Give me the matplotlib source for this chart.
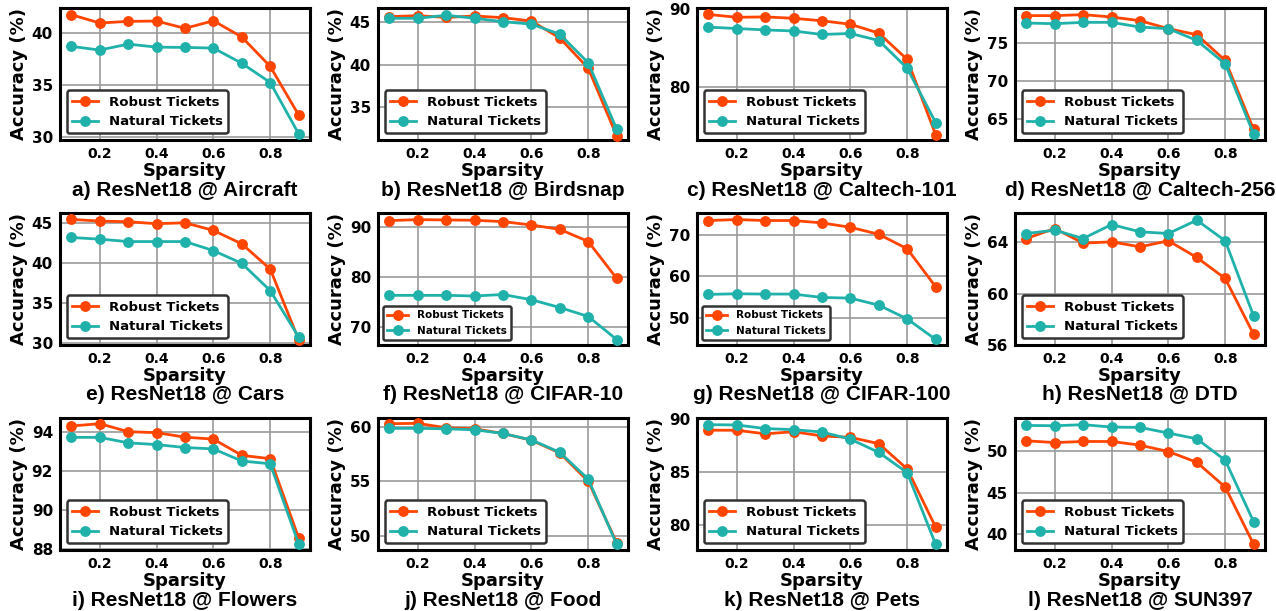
import matplotlib
matplotlib.use("Agg")
import matplotlib.pyplot as plt
import numpy as np

sparsity = [0.1, 0.2, 0.3, 0.4, 0.5, 0.6, 0.7, 0.8, 0.9]

captions = ["a) ResNet18 @ Aircraft", "b) ResNet18 @ Birdsnap", "c) ResNet18 @ Caltech-101",
            "d) ResNet18 @ Caltech-256", "e) ResNet18 @ Cars", "f) ResNet18 @ CIFAR-10",
            "g) ResNet18 @ CIFAR-100", "h) ResNet18 @ DTD", "i) ResNet18 @ Flowers",
            "j) ResNet18 @ Food", "k) ResNet18 @ Pets", "l) ResNet18 @ SUN397"]

robust_aircraft = [41.76, 40.96, 41.12, 41.15, 40.45, 41.18, 39.62, 36.8, 32.15]
natural_aircraft = [38.72, 38.37, 38.94, 38.65, 38.62, 38.56, 37.1, 35.26, 30.35]
robust_birdsnap = [45.6, 45.7, 45.5, 45.67, 45.47, 45.08, 43.1, 39.57, 31.7]
natural_birdsnap = [45.4, 45.4, 45.75, 45.4, 45.0, 44.72, 43.54, 40.2, 32.47]
robust_caltech101 = [89.32, 88.95, 89.0, 88.82, 88.5, 88.05, 86.9, 83.5, 73.8]
natural_caltech101 = [87.68, 87.5, 87.32, 87.18, 86.73, 86.86, 85.95, 82.36, 75.36]
robust_caltech256 = [78.6, 78.6, 78.73, 78.42, 77.94, 76.89, 76.1, 72.72, 63.68]
natural_caltech256 = [77.63, 77.54, 77.72, 77.72, 77.1, 76.89, 75.35, 72.28, 63.07]
robust_cars = [45.5, 45.29, 45.21, 44.96, 45.08, 44.12, 42.44, 39.29, 30.46]
natural_cars = [43.24, 43.03, 42.73, 42.73, 42.73, 41.6, 40.0, 36.6, 30.8]
robust_cifar10 = [91.28, 91.48, 91.41, 91.35, 91.08, 90.4, 89.53, 87.1, 79.73]
natural_cifar10 = [76.33, 76.33, 76.33, 76.2, 76.5, 75.45, 73.9, 72.1, 67.5]
robust_cifar100 = [73.39, 73.63, 73.39, 73.39, 72.82, 71.77, 70.08, 66.6, 57.5]
natural_cifar100 = [55.65, 55.8, 55.73, 55.73, 54.92, 54.76, 53.06, 49.76, 44.84]
robust_dtd = [64.31, 65.09, 63.95, 64.05, 63.66, 64.13, 62.83, 61.19, 56.83]
natural_dtd = [64.7, 64.96, 64.31, 65.4, 64.83, 64.7, 65.74, 64.13, 58.26]
robust_flowers = [94.29, 94.41, 94.0, 93.95, 93.72, 93.62, 92.79, 92.62, 88.57]
natural_flowers = [93.71, 93.71, 93.43, 93.34, 93.19, 93.12, 92.5, 92.36, 88.26]
robust_food = [60.28, 60.31, 59.9, 59.81, 59.38, 58.76, 57.59, 55.0, 49.38]
natural_food = [59.85, 59.85, 59.81, 59.72, 59.38, 58.79, 57.65, 55.2, 49.23]
robust_pets = [88.94, 88.94, 88.6, 88.8, 88.4, 88.27, 87.67, 85.27, 79.77]
natural_pets = [89.47, 89.44, 89.1, 89.0, 88.77, 88.1, 86.84, 84.92, 78.14]
robust_sun397 = [51.21, 51.0, 51.13, 51.13, 50.69, 49.92, 48.63, 45.65, 38.79]
natural_sun397 = [53.06, 53.02, 53.15, 52.86, 52.82, 52.14, 51.45, 48.87, 41.49]

robust = [robust_aircraft, robust_birdsnap, robust_caltech101, robust_caltech256,
          robust_cars, robust_cifar10, robust_cifar100, robust_dtd,
          robust_flowers, robust_food, robust_pets, robust_sun397]
natural = [natural_aircraft, natural_birdsnap, natural_caltech101, natural_caltech256,
           natural_cars, natural_cifar10, natural_cifar100, natural_dtd,
           natural_flowers, natural_food, natural_pets, natural_sun397]

yticks = [[30, 35, 40], [35, 40, 45], [80, 90], [65, 70, 75],
          [30, 35, 40, 45], [70, 80, 90], [50, 60, 70], [56, 60, 64],
          [88, 90, 92, 94], [50, 55, 60], [80, 85, 90], [40, 45, 50]]
ylims = [(29.75, 42.4), (31.2, 46.6), (73.1, 90.15), (62.3, 79.6),
         (29.8, 46.3), (66.4, 92.8), (43.5, 75.2), (56.0, 66.3),
         (87.95, 94.7), (48.7, 60.8), (77.6, 90.1), (38.1, 53.95)]

W, H = 1276, 611
fig = plt.figure(figsize=(W / 100, H / 100), dpi=100)

lefts = [60, 378, 697, 1015]
tops = [8, 213, 418]
aw, ah = 250, 132

for i in range(12):
    r, c = divmod(i, 4)
    ax = fig.add_axes([lefts[c] / W, 1 - (tops[r] + ah) / H, aw / W, ah / H])
    ax.plot(sparsity, robust[i], color="#FF4500", marker="o", markersize=6.8,
            linewidth=2, label="Robust Tickets", clip_on=False, zorder=3)
    ax.plot(sparsity, natural[i], color="#20B2AA", marker="o", markersize=6.8,
            linewidth=2, label="Natural Tickets", clip_on=False, zorder=3)
    ax.set_xticks([0.2, 0.4, 0.6, 0.8])
    ax.set_yticks(yticks[i])
    ax.set_ylim(*ylims[i])
    ax.grid(True, color="#999999", linewidth=1.2)
    ax.set_axisbelow(True)
    for s in ax.spines.values():
        s.set_linewidth(2.2)
    ax.tick_params(axis="x", length=0, pad=5, labelsize=10)
    ax.tick_params(axis="y", length=0, pad=5, labelsize=11)
    for lab in ax.get_xticklabels() + ax.get_yticklabels():
        lab.set_fontweight("bold")
    ax.set_xlabel("Sparsity", fontsize=13, fontweight="bold", labelpad=1)
    ax.set_ylabel("Accuracy (%)", fontsize=13, fontweight="bold", labelpad=3)
    lfs = 7.5 if i in (5, 6) else 9.5
    leg = ax.legend(loc="lower left", prop={"weight": "bold", "size": lfs},
                    fancybox=True, framealpha=1)
    leg.set_zorder(5)
    leg.get_frame().set_edgecolor("#333333")
    leg.get_frame().set_linewidth(1.8)
    cx = (lefts[c] + aw / 2) / W
    cy = 1 - (tops[r] + ah + 50) / H
    fig.text(cx, cy, captions[i], ha="center", va="center", fontsize=15,
             fontweight="bold", family="Liberation Sans")

fig.savefig("out.png", dpi=100)
